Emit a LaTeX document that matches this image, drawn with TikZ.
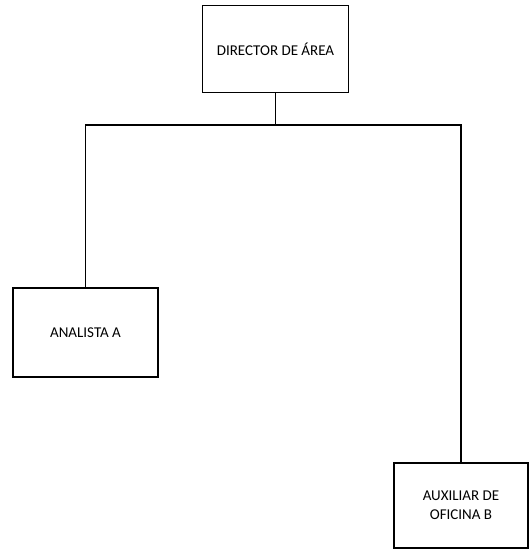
\documentclass[tikz,border=0pt]{standalone}
\usepackage{fontspec}
\setmainfont{Carlito}
\begin{document}
\begin{tikzpicture}[x=1pt,y=-1pt,
  box/.style={draw,line width=1.5pt,minimum width=#1,align=center,inner sep=0pt,font=\fontsize{15}{19}\selectfont},
  conn/.style={line width=1.5pt}]
\useasboundingbox (0,0) rectangle (529,550);
\node[box=146pt,minimum height=87pt] (dir) at (275.5,49) {DIRECTOR DE ÁREA};
\node[box=145pt,minimum height=89pt] (ana) at (85.5,332.5) {ANALISTA A};
\node[box=134pt,minimum height=85pt] (aux) at (461,505.5) {AUXILIAR DE\\OFICINA B};
\coordinate (hl) at (ana.north |- 0,125);
\coordinate (hr) at (aux.north |- 0,125);
\coordinate (hm) at (dir.south |- 0,125);
\draw[conn] (dir.south) -- (hm);
\draw[conn] (ana.north) -- (hl) -- (hr) -- (aux.north);
\end{tikzpicture}
\end{document}
